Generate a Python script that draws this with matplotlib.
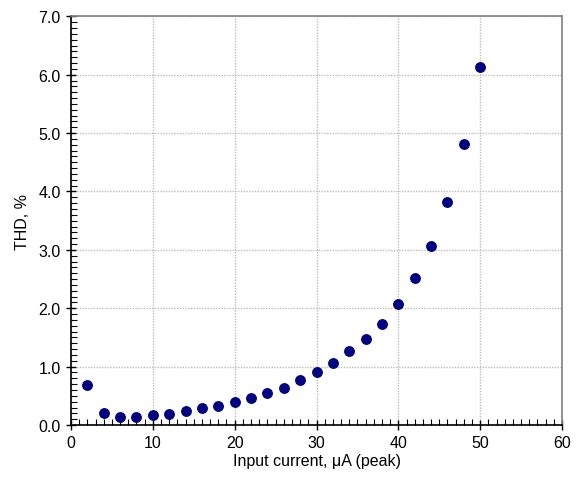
#THD vs input current scatter

#Libraries
import matplotlib.pyplot as plt
from matplotlib.ticker import MultipleLocator, FormatStrFormatter

#Data
current_ua = [2, 4, 6, 8, 10, 12, 14, 16, 18, 20, 22, 24, 26,
              28, 30, 32, 34, 36, 38, 40, 42, 44, 46, 48, 50]
thd_pct = [0.69, 0.21, 0.14, 0.14, 0.17, 0.19, 0.24, 0.29, 0.33, 0.40,
           0.47, 0.55, 0.64, 0.77, 0.91, 1.06, 1.26, 1.47, 1.73, 2.08,
           2.52, 3.07, 3.82, 4.81, 6.13]

plt.rcParams['font.family'] = ['Liberation Sans', 'DejaVu Sans']
plt.rcParams['font.size'] = 11.5

fig = plt.figure(figsize=(5.8, 4.81), dpi=100)
ax = fig.add_axes([0.1224, 0.1143, 0.969 - 0.1224, 0.964 - 0.1143])

ax.plot(current_ua, thd_pct, 'o', color='#000080', markersize=6.8, zorder=3)

ax.set_xlim(0, 60)
ax.set_ylim(0, 7.0)
ax.xaxis.set_major_locator(MultipleLocator(10))
ax.xaxis.set_minor_locator(MultipleLocator(1))
ax.yaxis.set_major_locator(MultipleLocator(1))
ax.yaxis.set_minor_locator(MultipleLocator(0.1))
ax.yaxis.set_major_formatter(FormatStrFormatter('%.1f'))

ax.tick_params(which='major', direction='inout', length=7, width=1, color='black')
ax.tick_params(which='minor', direction='in', length=4, width=0.8, color='black')
ax.tick_params(axis='both', labelsize=11.5, pad=4)

for side in ['left', 'bottom']:
    ax.spines[side].set_color('black')
    ax.spines[side].set_linewidth(1.2)
for side in ['top', 'right']:
    ax.spines[side].set_color('#808080')
    ax.spines[side].set_linewidth(1.2)

ax.grid(True, which='major', color='#bdbdbd', linestyle=(0, (1, 1)), linewidth=1.0)
ax.set_axisbelow(True)

ax.set_xlabel('Input current, μA (peak)', fontsize=11.5, labelpad=2)
ax.set_ylabel('THD, %', fontsize=11.5, labelpad=6)

plt.savefig('out.png', dpi=100)
plt.close()
